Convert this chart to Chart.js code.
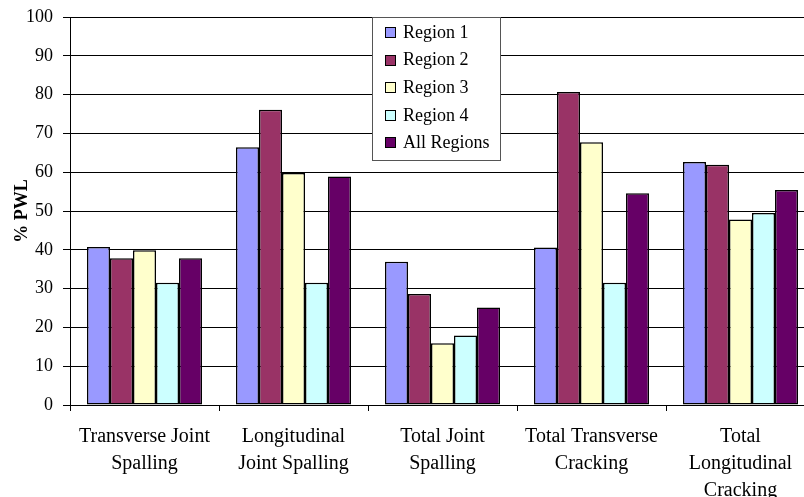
<!DOCTYPE html>
<html>
<head>
<meta charset="utf-8">
<script src="https://cdn.jsdelivr.net/npm/chart.js@4"></script>
<style>
  html, body { margin: 0; padding: 0; background: #fff; overflow: hidden; }
  #wrap { position: absolute; left: 0; top: 0; width: 820px; height: 497px; }
</style>
</head>
<body>
<div id="wrap"><canvas id="pwlChart" width="820" height="497"></canvas></div>
<script>
// data
const categories = [
    ['Transverse Joint', 'Spalling'],
    ['Longitudinal', 'Joint Spalling'],
    ['Total Joint', 'Spalling'],
    ['Total Transverse', 'Cracking'],
    ['Total', 'Longitudinal', 'Cracking']
];
const seriesNames = ['Region 1', 'Region 2', 'Region 3', 'Region 4', 'All Regions'];
const region1 = [40.7, 66.4, 36.9, 40.6, 62.6];
const region2 = [37.8, 76.1, 28.6, 80.7, 61.9];
const region3 = [39.9, 59.8, 15.9, 67.7, 47.8];
const region4 = [31.5, 31.5, 17.9, 31.5, 49.5];
const allRegions = [37.8, 58.9, 25.1, 54.6, 55.4];
const yTicks = [0, 10, 20, 30, 40, 50, 60, 70, 80, 90, 100];

const colors = ['#9999FF', '#993366', '#FFFFCC', '#CCFFFF', '#660066'];
const serif = "'Liberation Serif', 'Times New Roman', serif";

// legend box drawn inside the plot, like the original
const boxLegend = {
    id: 'boxLegend',
    afterDraw(chart) {
        const ctx = chart.ctx;
        const area = chart.chartArea;
        const x = area.left + 302;
        const y = area.top;
        const w = 128;
        const h = 143;
        ctx.save();
        ctx.fillStyle = '#fff';
        ctx.fillRect(x, y, w, h);
        ctx.strokeStyle = '#555';
        ctx.lineWidth = 1;
        ctx.strokeRect(x + 0.5, y + 0.5, w, h);
        ctx.font = '18px ' + serif;
        ctx.textBaseline = 'middle';
        chart.data.datasets.forEach((ds, i) => {
            const cy = y + 15 + i * 27.6;
            ctx.fillStyle = ds.backgroundColor;
            ctx.fillRect(x + 13, Math.round(cy - 5), 11, 11);
            ctx.strokeStyle = '#000';
            ctx.strokeRect(x + 13.5, Math.round(cy - 5) + 0.5, 10, 10);
            ctx.fillStyle = '#000';
            ctx.fillText(ds.label, x + 31, cy + 1);
        });
        ctx.restore();
    }
};

const seriesData = [region1, region2, region3, region4, allRegions];

new Chart(document.getElementById('pwlChart'), {
    type: 'bar',
    data: {
        labels: categories,
        datasets: seriesNames.map((name, i) => ({
            label: name,
            data: seriesData[i],
            backgroundColor: colors[i],
            borderColor: '#000',
            borderWidth: 1.5,
            borderSkipped: false,
            categoryPercentage: 0.772,
            barPercentage: 1
        }))
    },
    options: {
        responsive: false,
        animation: false,
        devicePixelRatio: 1,
        layout: { padding: { top: 17, right: 5, left: 0, bottom: 0 } },
        plugins: {
            legend: { display: false },
            tooltip: { enabled: false }
        },
        scales: {
            x: {
                offset: true,
                grid: {
                    offset: true,
                    drawOnChartArea: false,
                    drawTicks: true,
                    tickLength: 6,
                    color: '#000'
                },
                border: { color: '#000', width: 1 },
                ticks: {
                    color: '#000',
                    padding: 12,
                    maxRotation: 0,
                    autoSkip: false,
                    font: { family: serif, size: 20, lineHeight: 1.35 }
                },
                afterFit(scale) {
                    scale.height = 92;
                    scale.paddingLeft = 0;
                    scale.paddingRight = 0;
                }
            },
            y: {
                min: 0,
                max: 100,
                afterBuildTicks(scale) {
                    scale.ticks = yTicks.map(v => ({ value: v }));
                },
                grid: {
                    color: '#000',
                    lineWidth: 1,
                    tickLength: 7,
                    drawTicks: true
                },
                border: { color: '#000', width: 1 },
                ticks: {
                    color: '#000',
                    padding: 10,
                    font: { family: serif, size: 18 }
                },
                title: {
                    display: true,
                    text: '% PWL',
                    color: '#000',
                    padding: { top: 12, bottom: 0 },
                    font: { family: serif, size: 18, weight: 'bold' }
                },
                afterFit(scale) {
                    scale.width = 70;
                    scale.paddingTop = 0;
                    scale.paddingBottom = 0;
                }
            }
        }
    },
    plugins: [boxLegend]
});
</script>
</body>
</html>
